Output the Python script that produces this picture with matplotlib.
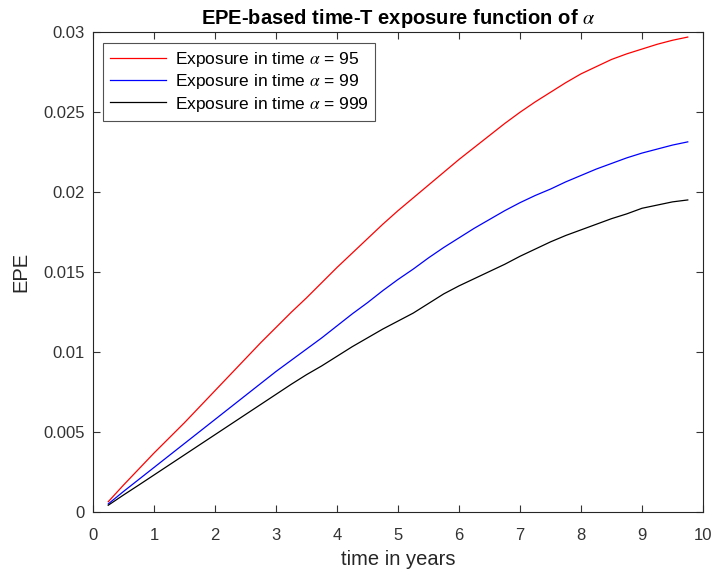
import matplotlib
matplotlib.use("Agg")
from matplotlib import pyplot as plt

# quarterly time grid (years) and EPE
t = [0.25, 0.5, 0.75, 1.0, 1.25, 1.5, 1.75, 2.0, 2.25, 2.5, 2.75, 3.0, 3.25,
     3.5, 3.75, 4.0, 4.25, 4.5, 4.75, 5.0, 5.25, 5.5, 5.75, 6.0, 6.25, 6.5,
     6.75, 7.0, 7.25, 7.5, 7.75, 8.0, 8.25, 8.5, 8.75, 9.0, 9.25, 9.5, 9.75]

epe_95 = [0.00066, 0.00170, 0.00270, 0.00370, 0.00465, 0.00560, 0.00660, 0.00760,
          0.00860, 0.00960, 0.01060, 0.01155, 0.01250, 0.01340, 0.01435, 0.01530,
          0.01620, 0.01710, 0.01800, 0.01885, 0.01965, 0.02045, 0.02125, 0.02205,
          0.02280, 0.02355, 0.02430, 0.02500, 0.02565, 0.02625, 0.02685, 0.02740,
          0.02785, 0.02830, 0.02865, 0.02895, 0.02925, 0.02950, 0.02970]

epe_99 = [0.00052, 0.00130, 0.00205, 0.00280, 0.00355, 0.00430, 0.00505, 0.00580,
          0.00655, 0.00730, 0.00805, 0.00880, 0.00950, 0.01020, 0.01090, 0.01165,
          0.01240, 0.01310, 0.01385, 0.01455, 0.01520, 0.01590, 0.01655, 0.01715,
          0.01775, 0.01830, 0.01885, 0.01935, 0.01980, 0.02020, 0.02065, 0.02105,
          0.02145, 0.02180, 0.02215, 0.02245, 0.02270, 0.02295, 0.02315]

epe_999 = [0.00044, 0.00108, 0.00170, 0.00233, 0.00296, 0.00359, 0.00422, 0.00485,
           0.00548, 0.00611, 0.00674, 0.00737, 0.00800, 0.00860, 0.00915, 0.00975,
           0.01035, 0.01090, 0.01145, 0.01195, 0.01245, 0.01305, 0.01365, 0.01415,
           0.01460, 0.01505, 0.01550, 0.01600, 0.01645, 0.01690, 0.01730, 0.01765,
           0.01800, 0.01835, 0.01865, 0.01900, 0.01920, 0.01940, 0.01952]

labels = [r"Exposure in time $\alpha$ = 95",
          r"Exposure in time $\alpha$ = 99",
          r"Exposure in time $\alpha$ = 999"]
colors = ["#ff0000", "#0000ff", "#000000"]

plt.rcParams["font.family"] = ["Liberation Sans", "DejaVu Sans"]
plt.rcParams["mathtext.fontset"] = "stix"

fig = plt.figure(figsize=(7.13, 5.76), dpi=100)
ax = fig.add_axes([0.1304, 0.1106, 0.8556, 0.8334])

for y, lab, c in zip([epe_95, epe_99, epe_999], labels, colors):
    ax.plot(t, y, color=c, lw=0.9, label=lab)

ax.set_xlim(0, 10)
ax.set_ylim(0, 0.03)
ax.set_xticks(range(0, 11))
ax.set_yticks([0, 0.005, 0.01, 0.015, 0.02, 0.025, 0.03])
ax.set_yticklabels(["0", "0.005", "0.01", "0.015", "0.02", "0.025", "0.03"])
ax.tick_params(direction="in", top=True, right=True, length=5, width=0.8,
               labelsize=12, colors="#333333", pad=6)
ax.tick_params(axis="x", pad=11)
for s in ax.spines.values():
    s.set_color("#262626")
    s.set_linewidth(0.8)

ax.set_xlabel("time in years", fontsize=14.5, color="#262626", labelpad=5)
ax.set_ylabel("EPE", fontsize=14.5, color="#262626", labelpad=9)
ax.set_title(r"EPE-based time-T exposure function of $\alpha$", fontsize=14.5,
             fontweight="bold", pad=6)

leg = ax.legend(loc="upper left", fontsize=12.5, frameon=True, fancybox=False,
                edgecolor="#262626", handlelength=3.2, borderaxespad=0.6,
                labelspacing=0.2, handletextpad=0.5, borderpad=0.4)
leg.get_frame().set_linewidth(0.8)

fig.savefig("out.png", dpi=100)
